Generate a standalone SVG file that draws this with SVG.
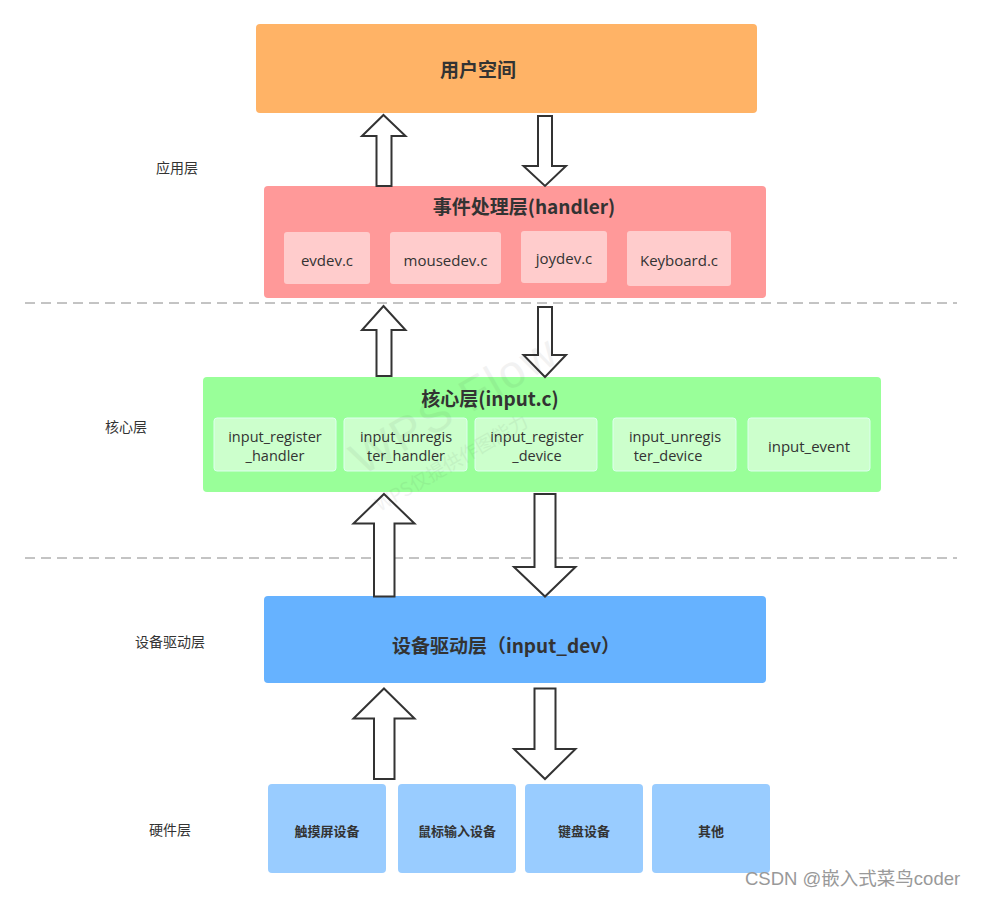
<svg xmlns="http://www.w3.org/2000/svg" width="981" height="898" viewBox="0 0 981 898">
<style>
  .title { font-family: "Noto Sans CJK SC", sans-serif; font-weight: bold; font-size: 19px; fill: #333; }
  .sub { font-family: "Open Sans", "Noto Sans CJK SC", sans-serif; font-size: 15px; fill: #333; }
  .sub2 { font-family: "Open Sans", "Noto Sans CJK SC", sans-serif; font-size: 14.5px; fill: #333; }
  .hw { font-family: "Noto Sans CJK SC", sans-serif; font-weight: bold; font-size: 13px; fill: #333; }
  .side { font-family: "Noto Sans CJK SC", sans-serif; font-size: 14px; fill: #333; }
  .arrow { fill: #fff; stroke: #333; stroke-width: 2; stroke-linejoin: miter; }
  .dash { stroke: #888; stroke-width: 1; stroke-dasharray: 10 6; }
  .hsub { fill: #FFCCCC; }
  .csub { fill: #CCFFCC; stroke: #DDFFEE; stroke-width: 1; }
  .hwbox { fill: #99CCFF; }
</style>
<rect width="981" height="898" fill="#fff"/>

<!-- dashed separators -->
<line class="dash" x1="25" y1="303" x2="957" y2="303"/>
<line class="dash" x1="25" y1="558" x2="957" y2="558"/>

<!-- side labels -->
<g id="labels">
  <text class="side" x="177" y="173" text-anchor="middle">应用层</text>
  <text class="side" x="126" y="432" text-anchor="middle">核心层</text>
  <text class="side" x="170" y="647" text-anchor="middle">设备驱动层</text>
  <text class="side" x="170" y="835" text-anchor="middle">硬件层</text>
</g>

<g id="user-space">
  <rect x="256" y="24" width="501" height="89" rx="4" fill="#FFB366"/>
  <text class="title" x="478" y="77" text-anchor="middle">用户空间</text>
</g>

<g id="handler-layer">
  <rect x="264" y="186" width="502" height="112" rx="4" fill="#FF9999"/>
  <text class="title" x="524" y="214" text-anchor="middle">事件处理层(handler)</text>
  <g id="evdev"><rect class="hsub" x="284" y="232" width="86" height="52" rx="3"/><text class="sub" x="327" y="266" text-anchor="middle">evdev.c</text></g>
  <g id="mousedev"><rect class="hsub" x="390" y="232" width="111" height="52" rx="3"/><text class="sub" x="445.5" y="266" text-anchor="middle">mousedev.c</text></g>
  <g id="joydev"><rect class="hsub" x="521" y="231" width="86" height="52" rx="3"/><text class="sub" x="564" y="264" text-anchor="middle">joydev.c</text></g>
  <g id="keyboard"><rect class="hsub" x="627" y="231" width="104" height="55" rx="3"/><text class="sub" x="679" y="266" text-anchor="middle">Keyboard.c</text></g>
</g>

<g id="core-layer">
  <rect x="203" y="377" width="678" height="115" rx="4" fill="#99FF99"/>
  <text class="title" x="490" y="406" text-anchor="middle">核心层(input.c)</text>
  <g id="input-register-handler"><rect class="csub" x="214" y="418" width="122" height="53" rx="3"/>
    <text class="sub2" x="275" y="441.5" text-anchor="middle">input_register</text><text class="sub2" x="275" y="461" text-anchor="middle">_handler</text></g>
  <g id="input-unregister-handler"><rect class="csub" x="344" y="418" width="123" height="53" rx="3"/>
    <text class="sub2" x="406" y="441.5" text-anchor="middle">input_unregis</text><text class="sub2" x="406" y="461" text-anchor="middle">ter_handler</text></g>
  <g id="input-register-device"><rect class="csub" x="475" y="418" width="122" height="53" rx="3"/>
    <text class="sub2" x="537" y="441.5" text-anchor="middle">input_register</text><text class="sub2" x="537" y="461" text-anchor="middle">_device</text></g>
  <g id="input-unregister-device"><rect class="csub" x="613" y="418" width="123" height="53" rx="3"/>
    <text class="sub2" x="675" y="441.5" text-anchor="middle">input_unregis</text><text class="sub2" x="668" y="461" text-anchor="middle">ter_device</text></g>
  <g id="input-event"><rect class="csub" x="748" y="418" width="122" height="53" rx="3"/>
    <text class="sub" x="809" y="452" text-anchor="middle">input_event</text></g>
</g>

<g id="device-layer">
  <rect x="264" y="596" width="502" height="87" rx="4" fill="#66B2FF"/>
  <text class="title" x="506" y="653" text-anchor="middle">设备驱动层（input_dev）</text>
</g>

<g id="hardware-layer">
  <g id="touch"><rect class="hwbox" x="268" y="784" width="118" height="89" rx="4"/><text class="hw" x="327" y="836" text-anchor="middle">触摸屏设备</text></g>
  <g id="mouse"><rect class="hwbox" x="398" y="784" width="118" height="89" rx="4"/><text class="hw" x="457" y="836" text-anchor="middle">鼠标输入设备</text></g>
  <g id="keyboard-dev"><rect class="hwbox" x="525" y="784" width="118" height="89" rx="4"/><text class="hw" x="584" y="836" text-anchor="middle">键盘设备</text></g>
  <g id="other"><rect class="hwbox" x="652" y="784" width="118" height="89" rx="4"/><text class="hw" x="711" y="836" text-anchor="middle">其他</text></g>
</g>

<g id="connectors">
  <!-- user <-> handler -->
  <polygon class="arrow" points="383.5,115 405.5,136 391.5,136 391.5,186 376.5,186 376.5,136 362,136"/>
  <polygon class="arrow" points="538,116 552,116 552,166 566,166 545,186 523.5,166 538,166"/>
  <!-- handler <-> core -->
  <polygon class="arrow" points="383.5,306 405.5,330 391.5,330 391.5,376 376.5,376 376.5,330 362,330"/>
  <polygon class="arrow" points="538,307 552,307 552,355 566,355 545,377 523.5,355 538,355"/>
  <!-- core <-> device -->
  <polygon class="arrow" points="384,494 414.5,523.5 394.5,523.5 394.5,596.5 374,596.5 374,523.5 353.5,523.5"/>
  <polygon class="arrow" points="534.5,494 555.5,494 555.5,567 575.5,567 545,596.5 514,567 534.5,567"/>
  <!-- device <-> hardware -->
  <polygon class="arrow" points="384,688.5 414.5,718.5 394.5,718.5 394.5,779 374,779 374,718.5 353.5,718.5"/>
  <polygon class="arrow" points="534.5,688.5 555.5,688.5 555.5,749 575.5,749 545,779 514,749 534.5,749"/>
</g>

<!-- faint WPS watermark -->
<g id="watermark" opacity="0.06" fill="#333">
  <text x="362" y="476" transform="rotate(-30 362 476)" style="font-family:'Liberation Sans',sans-serif;font-size:46px;letter-spacing:2px">WPS Flow</text>
  <text x="380" y="512" transform="rotate(-30 380 512)" style="font-family:'Noto Sans CJK SC',sans-serif;font-size:19px">WPS仅提供作图能力</text>
</g>

<text x="745" y="885" style="font-family:'Liberation Sans','Noto Sans CJK SC',sans-serif;font-size:18.5px" fill="#999">CSDN @嵌入式菜鸟coder</text>
</svg>
